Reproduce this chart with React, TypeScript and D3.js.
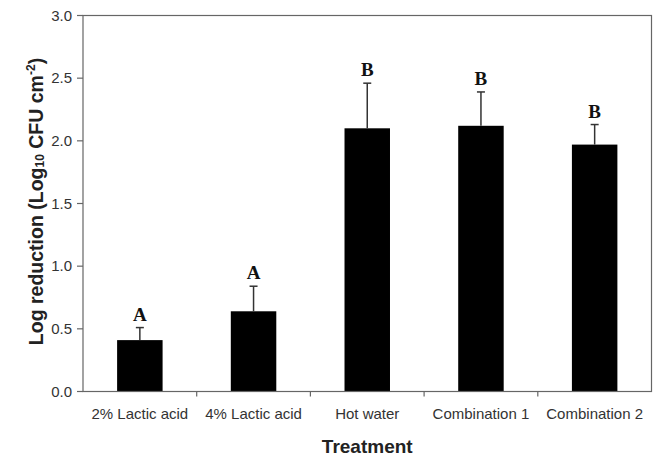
import React from 'react';
import * as d3 from 'd3';

// chart values
const treatments = ['2% Lactic acid', '4% Lactic acid', 'Hot water', 'Combination 1', 'Combination 2'];
const reduction = [0.41, 0.64, 2.1, 2.12, 1.97];
const errorUp = [0.1, 0.2, 0.36, 0.27, 0.16];
const letters = ['A', 'A', 'B', 'B', 'B'];
const yTicks = [0, 0.5, 1, 1.5, 2, 2.5, 3];

const W = 657;
const H = 457;
const margin = { top: 15.5, right: 5.5, bottom: 65.5, left: 83 };
const axisColor = '#666';
const sans = 'Arial, "Liberation Sans", Helvetica, sans-serif';

const App = () => {
    const x = d3.scaleBand<number>()
        .domain(d3.range(treatments.length))
        .range([margin.left, W - margin.right])
        .paddingInner(0.6)
        .paddingOuter(0.3);
    const band = d3.scaleBand<number>()
        .domain(d3.range(treatments.length))
        .range([margin.left, W - margin.right]);
    const y = d3.scaleLinear().domain([0, 3]).range([H - margin.bottom, margin.top]);

    const x0 = margin.left;
    const x1 = W - margin.right;
    const y0 = y(0);
    const y1 = y(3);

    return (
        <svg width={W} height={H} style={{ position: 'absolute', left: 0, top: 0, background: '#fff' }}>
            {/* bars */}
            {reduction.map((v, i) => (
                <rect key={'b' + i} x={x(i)} y={y(v)} width={x.bandwidth()} height={y0 - y(v)} fill="#000" />
            ))}
            {/* error bars, upper only */}
            {reduction.map((v, i) => {
                const cx = (x(i) as number) + x.bandwidth() / 2;
                const top = y(v + errorUp[i]);
                return (
                    <g key={'e' + i} stroke="#333" strokeWidth={1.5}>
                        <line x1={cx} x2={cx} y1={y(v)} y2={top} />
                        <line x1={cx - 4} x2={cx + 4} y1={top} y2={top} />
                    </g>
                );
            })}
            {/* significance letters */}
            {reduction.map((v, i) => (
                <text key={'l' + i} x={(x(i) as number) + x.bandwidth() / 2} y={y(v + errorUp[i]) - 7}
                    textAnchor="middle" fontFamily='"Liberation Serif", "Times New Roman", serif'
                    fontWeight="bold" fontSize={19} fill="#111">{letters[i]}</text>
            ))}
            {/* frame */}
            <rect x={x0} y={y1} width={x1 - x0} height={y0 - y1} fill="none" stroke={axisColor} strokeWidth={1.2} />
            {/* y ticks */}
            {yTicks.map(t => (
                <g key={'y' + t}>
                    <line x1={x0 - 6} x2={x0} y1={y(t)} y2={y(t)} stroke={axisColor} strokeWidth={1.2} />
                    <text x={x0 - 11} y={y(t)} dy="0.35em" textAnchor="end" fontFamily={sans} fontSize={15} fill="#333">
                        {t.toFixed(1)}
                    </text>
                </g>
            ))}
            {/* x ticks at category boundaries */}
            {d3.range(1, treatments.length).map(i => (
                <line key={'xt' + i} x1={band(i)} x2={band(i)} y1={y0} y2={y0 + 5} stroke={axisColor} strokeWidth={1.2} />
            ))}
            {treatments.map((t, i) => (
                <text key={'xl' + i} x={(band(i) as number) + band.bandwidth() / 2} y={y0 + 27}
                    textAnchor="middle" fontFamily={sans} fontSize={15} fill="#333">{t}</text>
            ))}
            {/* axis titles */}
            <text x={(x0 + x1) / 2} y={453} textAnchor="middle" fontFamily={sans} fontWeight="bold" fontSize={19} fill="#222">
                Treatment
            </text>
            <text transform={`translate(43, ${(y0 + y1) / 2 - 2}) rotate(-90)`} textAnchor="middle"
                fontFamily={sans} fontWeight="bold" fontSize={19.5} fill="#222">
                Log reduction (Log<tspan fontSize={12} dy={1}>10</tspan>
                <tspan dy={-1}> CFU cm</tspan>
                <tspan fontSize={12} dy={-8}>-2</tspan>
                <tspan dy={8}>)</tspan>
            </text>
        </svg>
    );
};

export default App;
